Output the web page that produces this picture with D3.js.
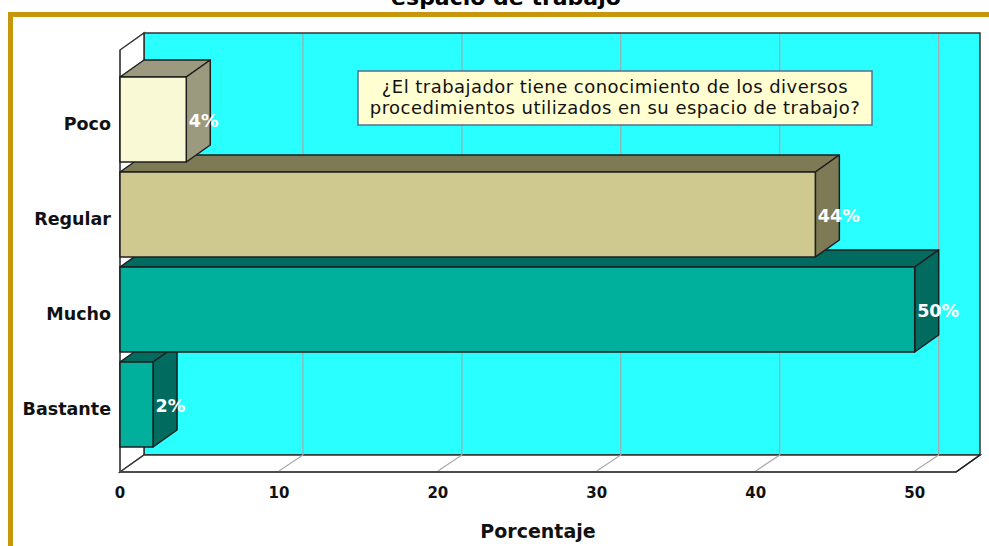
<!DOCTYPE html>
<html><head><meta charset="utf-8">
<script src="https://cdn.jsdelivr.net/npm/d3@7"></script>
<style>body{margin:0;background:#fff}svg{display:block}</style>
</head><body>
<svg id="chart" width="989" height="546"></svg>
<script>
const categories = ["Poco", "Regular", "Mucho", "Bastante"];
const values = [4.17, 43.75, 50.0, 2.08];
const valueLabels = ["4%", "44%", "50%", "2%"];
const tickValues = [0, 10, 20, 30, 40, 50];
const frontColors = ["#F9F9D5", "#CFC98F", "#00B09D", "#00B09D"];
const sideColors = ["#9C9A7E", "#7E7A55", "#006B5E", "#006B5E"];
const titleText = "espacio de trabajo";
const noteLines = ["¿El trabajador tiene conocimiento de los diversos", "procedimientos utilizados en su espacio de trabajo?"];
const axisTitle = "Porcentaje";

const svg = d3.select("#chart");
const font = "'DejaVu Sans', Verdana, sans-serif";
const dx = 24, dy = 17;
const frontTop = 50, floorY = 472;

const x = d3.scaleLinear().domain([0, 52.6]).range([120, 956]);
const y = d3.scaleBand().domain(categories).range([72, 452]).paddingInner(10/95).paddingOuter(5/95);

// frame
svg.append("rect").attr("x", 10.5).attr("y", 14.5).attr("width", 1100).attr("height", 700)
  .attr("fill", "none").attr("stroke", "#C8960A").attr("stroke-width", 5);

// title (clipped at top, as in the reference)
svg.append("text").attr("x", 506).attr("y", 5).attr("text-anchor", "middle")
  .attr("font-family", font).attr("font-weight", "bold").attr("font-size", 22).text(titleText);

const x0 = x(0), x1 = x.range()[1];
// back wall
svg.append("rect").attr("x", x0 + dx).attr("y", frontTop - dy)
  .attr("width", x1 - x0).attr("height", floorY - frontTop)
  .attr("fill", "#2AFFFF").attr("stroke", "#333").attr("stroke-width", 1.5);
// left wall
svg.append("path").attr("d", `M${x0},${frontTop}L${x0+dx},${frontTop-dy}L${x0+dx},${floorY-dy}L${x0},${floorY}Z`)
  .attr("fill", "#fff").attr("stroke", "#333").attr("stroke-width", 1.5);
// floor
svg.append("path").attr("d", `M${x0},${floorY}L${x0+dx},${floorY-dy}L${x1+dx},${floorY-dy}L${x1},${floorY}Z`)
  .attr("fill", "#fff").attr("stroke", "#333").attr("stroke-width", 1.5);

// gridlines
const grid = svg.append("g").attr("stroke", "#A8A8A8").attr("stroke-width", 1.2);
tickValues.filter(t => t > 0).forEach(t => {
  grid.append("line").attr("x1", x(t)+dx).attr("x2", x(t)+dx).attr("y1", frontTop-dy+1).attr("y2", floorY-dy);
  grid.append("line").attr("x1", x(t)).attr("x2", x(t)+dx).attr("y1", floorY-1).attr("y2", floorY-dy);
});
svg.append("line").attr("x1", x0).attr("x2", x1).attr("y1", floorY).attr("y2", floorY).attr("stroke", "#444").attr("stroke-width", 1.5);
svg.append("line").attr("x1", x1).attr("x2", x1+dx).attr("y1", floorY).attr("y2", floorY-dy).attr("stroke", "#222").attr("stroke-width", 1.5);
svg.append("line").attr("x1", x0).attr("x2", x0).attr("y1", frontTop).attr("y2", floorY).attr("stroke", "#555").attr("stroke-width", 1.5);

// bars drawn bottom to top
const order = d3.range(categories.length).reverse();
const bars = svg.append("g");
order.forEach(i => {
  const c = categories[i];
  const top = y(c), bot = y(c) + y.bandwidth();
  const left = x(0), right = x(values[i]);
  const g = bars.append("g").attr("stroke", "#1E1E1E").attr("stroke-width", 1.5).attr("stroke-linejoin", "round");
  g.append("path").attr("d", `M${left},${top}L${left+dx},${top-dy}L${right+dx},${top-dy}L${right},${top}Z`).attr("fill", sideColors[i]);
  g.append("path").attr("d", `M${right},${top}L${right+dx},${top-dy}L${right+dx},${bot-dy}L${right},${bot}Z`).attr("fill", sideColors[i]);
  g.append("rect").attr("x", left).attr("y", top).attr("width", right-left).attr("height", bot-top).attr("fill", frontColors[i]);
  bars.append("text").attr("x", right + 2.5).attr("y", top + y.bandwidth()/2 + 7)
    .attr("fill", "#fff").attr("font-family", font).attr("font-weight", "bold").attr("font-size", 17.5)
    .text(valueLabels[i]);
});

// category labels
svg.append("g").selectAll("text").data(categories).join("text")
  .attr("x", 111).attr("y", d => y(d) + y.bandwidth()/2 + 10)
  .attr("text-anchor", "end").attr("font-family", font).attr("font-weight", "bold").attr("font-size", 17.5)
  .attr("fill", "#111").text(d => d);

// x tick labels
svg.append("g").selectAll("text").data(tickValues).join("text")
  .attr("x", d => x(d)).attr("y", 498).attr("text-anchor", "middle")
  .attr("font-family", font).attr("font-weight", "bold").attr("font-size", 15).attr("fill", "#111")
  .text(d => d);

// axis title
svg.append("text").attr("x", 538).attr("y", 538).attr("text-anchor", "middle")
  .attr("font-family", font).attr("font-weight", "bold").attr("font-size", 19).attr("fill", "#111").text(axisTitle);

// annotation
svg.append("rect").attr("x", 358).attr("y", 71).attr("width", 514).attr("height", 54)
  .attr("fill", "#FFFFD2").attr("stroke", "#56708E").attr("stroke-width", 1.5);
svg.append("g").selectAll("text").data(noteLines).join("text")
  .attr("x", 615).attr("y", (d, i) => 93 + i * 21).attr("text-anchor", "middle")
  .attr("font-family", font).attr("font-size", 18).attr("letter-spacing", 0.45).attr("fill", "#111").text(d => d);
</script>
</body></html>
